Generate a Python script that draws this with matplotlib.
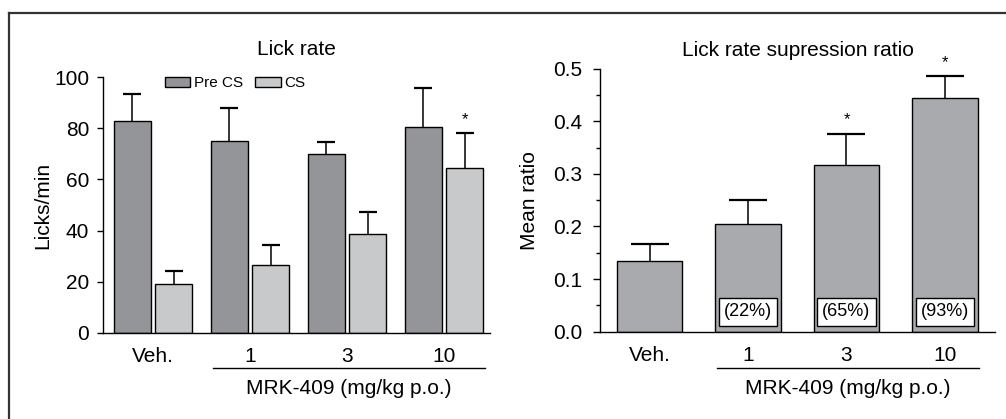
import matplotlib
matplotlib.use("Agg")
import matplotlib.pyplot as plt
from matplotlib.lines import Line2D
import matplotlib.transforms as mtransforms
import numpy as np

plt.rcParams['font.family'] = ['Liberation Sans', 'DejaVu Sans']

# ---- data ----
categories = ["Veh.", "1", "3", "10"]
pre_cs = [83, 75, 70, 80.5]
pre_cs_err = [10.5, 12.8, 4.7, 15.2]
cs = [19, 26.5, 38.5, 64.5]
cs_err = [5.3, 7.9, 8.9, 13.8]
cs_sig = [False, False, False, True]

ratio = [0.135, 0.204, 0.317, 0.445]
ratio_err = [0.032, 0.046, 0.059, 0.041]
ratio_sig = [False, False, True, True]
ratio_pct = [None, "(22%)", "(65%)", "(93%)"]

group_label = "MRK-409 (mg/kg p.o.)"

c_pre = "#949599"
c_cs = "#c8c9cb"
c_ratio = "#a9aaad"

fig = plt.figure(figsize=(10.06, 4.19), dpi=100)
W, H = 1006, 419

def fx(px):
    return px / W

def fy(py):
    return 1 - py / H

# frame lines (top and left)
fig.add_artist(Line2D([fx(9), fx(1006)], [fy(13), fy(13)], color="#333333", lw=1.6))
fig.add_artist(Line2D([fx(9), fx(9)], [fy(13), fy(419)], color="#333333", lw=1.6))


def up_err(ax, xs, vals, errs, cap_pts):
    tops = np.asarray(vals) + np.asarray(errs)
    ax.vlines(xs, vals, tops, colors="black", lw=1.1, zorder=1)
    ax.plot(xs, tops, ls="none", marker="_", markersize=cap_pts, markeredgewidth=1.6,
            color="black", zorder=1, clip_on=False)


# ---- left axes ----
ax1 = fig.add_axes([fx(103), fy(333), fx(490) - fx(103), fy(77) - fy(333)])
x = np.arange(len(categories))
w = 0.38
off = 0.215
ax1.bar(x - off, pre_cs, w, color=c_pre, edgecolor="black", lw=1.0, label="Pre CS", zorder=2)
ax1.bar(x + off, cs, w, color=c_cs, edgecolor="black", lw=1.0, label="CS", zorder=2)
up_err(ax1, x - off, pre_cs, pre_cs_err, 13)
up_err(ax1, x + off, cs, cs_err, 13)
for xi, v, e, s in zip(x, cs, cs_err, cs_sig):
    if s:
        ax1.text(xi + off, v + e + 2.0, "*", ha="center", va="bottom", fontsize=12)
ax1.set_xlim(-0.515, 3.475)
ax1.set_ylim(0, 100)
ax1.set_yticks([0, 20, 40, 60, 80, 100])
ax1.set_xticks(x)
ax1.set_xticklabels(categories)
ax1.tick_params(axis="x", length=0, pad=10, labelsize=15)
ax1.tick_params(axis="y", length=4, width=1, pad=6, labelsize=15, direction="out")
for sp in ["top", "right"]:
    ax1.spines[sp].set_visible(False)
for sp in ["left", "bottom"]:
    ax1.spines[sp].set_linewidth(1.0)
ax1.set_ylabel("Licks/min", fontsize=15, labelpad=1.5)
ax1.set_title("Lick rate", fontsize=15, pad=16)
ax1.legend(loc="upper left", bbox_to_anchor=(fx(165), fy(76)), bbox_transform=fig.transFigure,
           ncol=2, frameon=False, fontsize=11, handlelength=1.65, handleheight=0.65,
           handletextpad=0.25, columnspacing=0.8, borderpad=0, borderaxespad=0)

trans1 = mtransforms.blended_transform_factory(ax1.transData, fig.transFigure)
ax1.add_artist(Line2D([0.62, 3.42], [fy(368), fy(368)], transform=trans1, color="black",
                      lw=1.0, clip_on=False))
ax1.text(2.02, fy(388), group_label, transform=trans1, ha="center", va="center", fontsize=15)

# ---- right axes ----
ax2 = fig.add_axes([fx(600), fy(331.7), fx(995) - fx(600), fy(68.7) - fy(331.7)])
w2 = 0.665
ax2.bar(x, ratio, w2, color=c_ratio, edgecolor="black", lw=1.0, zorder=2)
up_err(ax2, x, ratio, ratio_err, 28)
for xi, v, e, s in zip(x, ratio, ratio_err, ratio_sig):
    if s:
        ax2.text(xi, v + e + 0.012, "*", ha="center", va="bottom", fontsize=12, clip_on=False)
for xi, p in zip(x, ratio_pct):
    if p:
        ax2.text(xi, 0.0375, p, ha="center", va="center", fontsize=13, zorder=3,
                 bbox=dict(boxstyle="square,pad=0.28", fc="white", ec="black", lw=1.0))
ax2.set_xlim(-0.503, 3.508)
ax2.set_ylim(0, 0.5)
ax2.set_yticks([0.0, 0.1, 0.2, 0.3, 0.4, 0.5])
ax2.set_yticklabels(["0.0", "0.1", "0.2", "0.3", "0.4", "0.5"])
ax2.set_yticks(np.arange(0.05, 0.5, 0.1), minor=True)
ax2.set_xticks(x)
ax2.set_xticklabels(categories)
ax2.tick_params(axis="x", length=0, pad=10, labelsize=15)
ax2.tick_params(axis="y", which="major", length=5, width=1, pad=8, labelsize=15, direction="out")
ax2.tick_params(axis="y", which="minor", length=3, width=1, direction="out")
for sp in ["top", "right"]:
    ax2.spines[sp].set_visible(False)
for sp in ["left", "bottom"]:
    ax2.spines[sp].set_linewidth(1.0)
ax2.set_ylabel("Mean ratio", fontsize=15, labelpad=10)
ax2.set_title("Lick rate supression ratio", fontsize=15, pad=9)

trans2 = mtransforms.blended_transform_factory(ax2.transData, fig.transFigure)
ax2.add_artist(Line2D([0.685, 3.345], [fy(368), fy(368)], transform=trans2, color="black",
                      lw=1.0, clip_on=False))
ax2.text(2.015, fy(388), group_label, transform=trans2, ha="center", va="center", fontsize=15)

fig.savefig("out.png", dpi=100)
